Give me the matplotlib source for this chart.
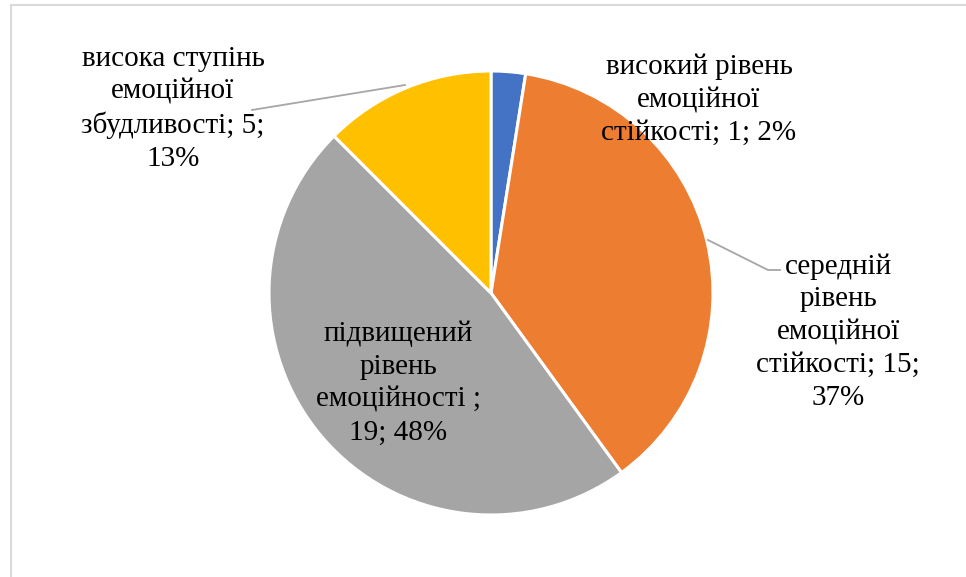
import textwrap
import matplotlib
matplotlib.use("Agg")
import matplotlib.pyplot as plt

# Data
categories = [
    "високий рівень емоційної стійкості",
    "середній рівень емоційної стійкості",
    "підвищений рівень емоційності ",
    "висока ступінь емоційної збудливості",
]
values = [1, 15, 19, 5]
pct_labels = ["2%", "37%", "48%", "13%"]
colors = ["#4472C4", "#ED7D31", "#A5A5A5", "#FFC000"]

W, H = 966, 577
plt.rcParams["font.family"] = "serif"
plt.rcParams["font.serif"] = ["Liberation Serif", "DejaVu Serif"]

fig = plt.figure(figsize=(W / 100, H / 100), dpi=100)
ax = fig.add_axes([0, 0, 1, 1])


def Y(y):
    return H - y


cx, cy, r = 491, 293, 222
ax.pie(values, colors=colors, startangle=90, counterclock=False,
       center=(cx, Y(cy)), radius=r, frame=True,
       wedgeprops=dict(edgecolor="white", linewidth=2.2))
ax.set_xlim(0, W)
ax.set_ylim(0, H)
ax.set_aspect("equal")
ax.axis("off")

# chart frame (only top and left edges fall within the image)
ax.plot([11, 11, W + 5], [-5, Y(5), Y(5)], color="#D9D9D9", lw=1.5,
        solid_joinstyle="miter", clip_on=False)

# label text: "category; value; percent", wrapped as in the chart
wrap_widths = [16, 14, 13, 15]
label_pos = [(699, 100), (838, 332), (398, 383), (173, 109)]
for cat, v, p, w, (lx, ly) in zip(categories, values, pct_labels,
                                   wrap_widths, label_pos):
    txt = textwrap.fill(f"{cat}; {v}; {p}", width=w)
    ax.text(lx, Y(ly), txt, ha="center", va="center", multialignment="center",
            fontsize=21, color="#000000", linespacing=1.34,
            family="Liberation Serif")

# leader lines
lc = "#A6A6A6"
ax.plot([708, 768, 780], [Y(240), Y(270), Y(270)], color=lc, lw=1.3)
ax.plot([252, 405], [Y(110), Y(85)], color=lc, lw=1.3)

fig.savefig("out.png", dpi=100)
